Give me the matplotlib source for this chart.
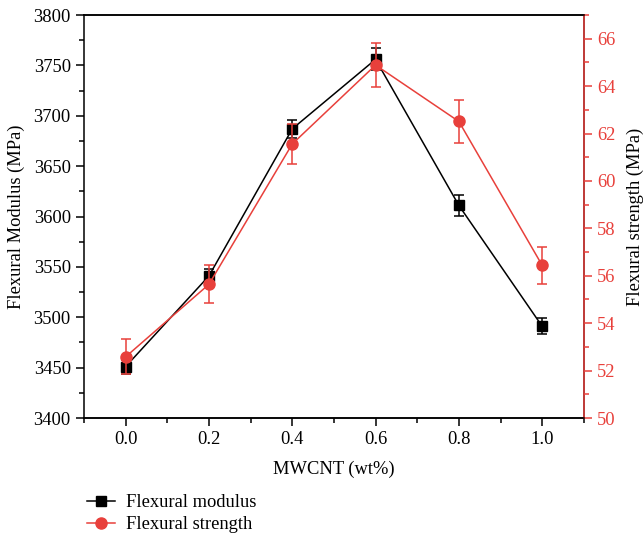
"""Flexural modulus and strength vs MWCNT content."""

import matplotlib
matplotlib.use("Agg")
from matplotlib import pyplot as plt
from matplotlib.lines import Line2D
from matplotlib.ticker import MultipleLocator

mwcnt = [0.0, 0.2, 0.4, 0.6, 0.8, 1.0]
modulus = [3451, 3541, 3687, 3756, 3611, 3491]
modulus_err = [7, 7, 9, 11, 10, 8]
strength = [52.58, 55.64, 61.56, 64.89, 62.51, 56.44]
strength_err = [0.74, 0.8, 0.84, 0.94, 0.91, 0.78]

RED = "#e8403b"
FS = 13.3

plt.rcParams["font.family"] = ["Liberation Serif", "DejaVu Serif"]
plt.rcParams["font.size"] = FS

fig = plt.figure(figsize=(6.43, 5.37), dpi=100)
ax = fig.add_axes([0.1306, 0.2216, 0.7774, 0.7504])
ax2 = ax.twinx()

ax.errorbar(
    mwcnt, modulus, yerr=modulus_err, color="black", marker="s", markersize=7,
    linewidth=1.1, capsize=3.5, elinewidth=1.1, capthick=1.1,
)
ax2.errorbar(
    mwcnt, strength, yerr=strength_err, color=RED, marker="o", markersize=8,
    linewidth=1.1, capsize=3.5, elinewidth=1.1, capthick=1.1,
)

ax.set_xlim(-0.1, 1.1)
ax.set_ylim(3400, 3800)
ax2.set_ylim(50, 67)

ax.xaxis.set_minor_locator(MultipleLocator(0.1))
ax.yaxis.set_major_locator(MultipleLocator(50))
ax.yaxis.set_minor_locator(MultipleLocator(25))
ax2.yaxis.set_major_locator(MultipleLocator(2))
ax2.yaxis.set_minor_locator(MultipleLocator(1))
ax.set_xticks(mwcnt)
ax.set_xticklabels([f"{v:.1f}" for v in mwcnt])

ax.tick_params(which="both", direction="out", width=1.1)
ax.tick_params(which="major", length=6, labelsize=FS)
ax.tick_params(which="minor", length=3.5)
ax2.tick_params(which="both", direction="out", width=1.1, colors=RED)
ax2.tick_params(which="major", length=6, labelsize=FS)
ax2.tick_params(which="minor", length=3.5)

for sp in list(ax.spines.values()) + list(ax2.spines.values()):
    sp.set_linewidth(1.1)
ax2.spines["right"].set_color(RED)
ax2.spines["left"].set_visible(False)

ax.set_xlabel("MWCNT (wt%)", fontsize=FS, labelpad=9)
ax.set_ylabel("Flexural Modulus (MPa)", fontsize=FS, labelpad=6)
ax2.set_ylabel("Flexural strength (MPa)", fontsize=FS, labelpad=8)

handles = [
    Line2D([], [], color="black", marker="s", markersize=7, linewidth=1.1),
    Line2D([], [], color=RED, marker="o", markersize=8, linewidth=1.1),
]
fig.legend(
    handles, ["Flexural modulus", "Flexural strength"], loc="upper left",
    bbox_to_anchor=(0.124, 0.093), frameon=False, fontsize=FS,
    handlelength=1.5, handletextpad=0.6, labelspacing=0.25, borderaxespad=0,
)

fig.savefig("out.png", dpi=100)
